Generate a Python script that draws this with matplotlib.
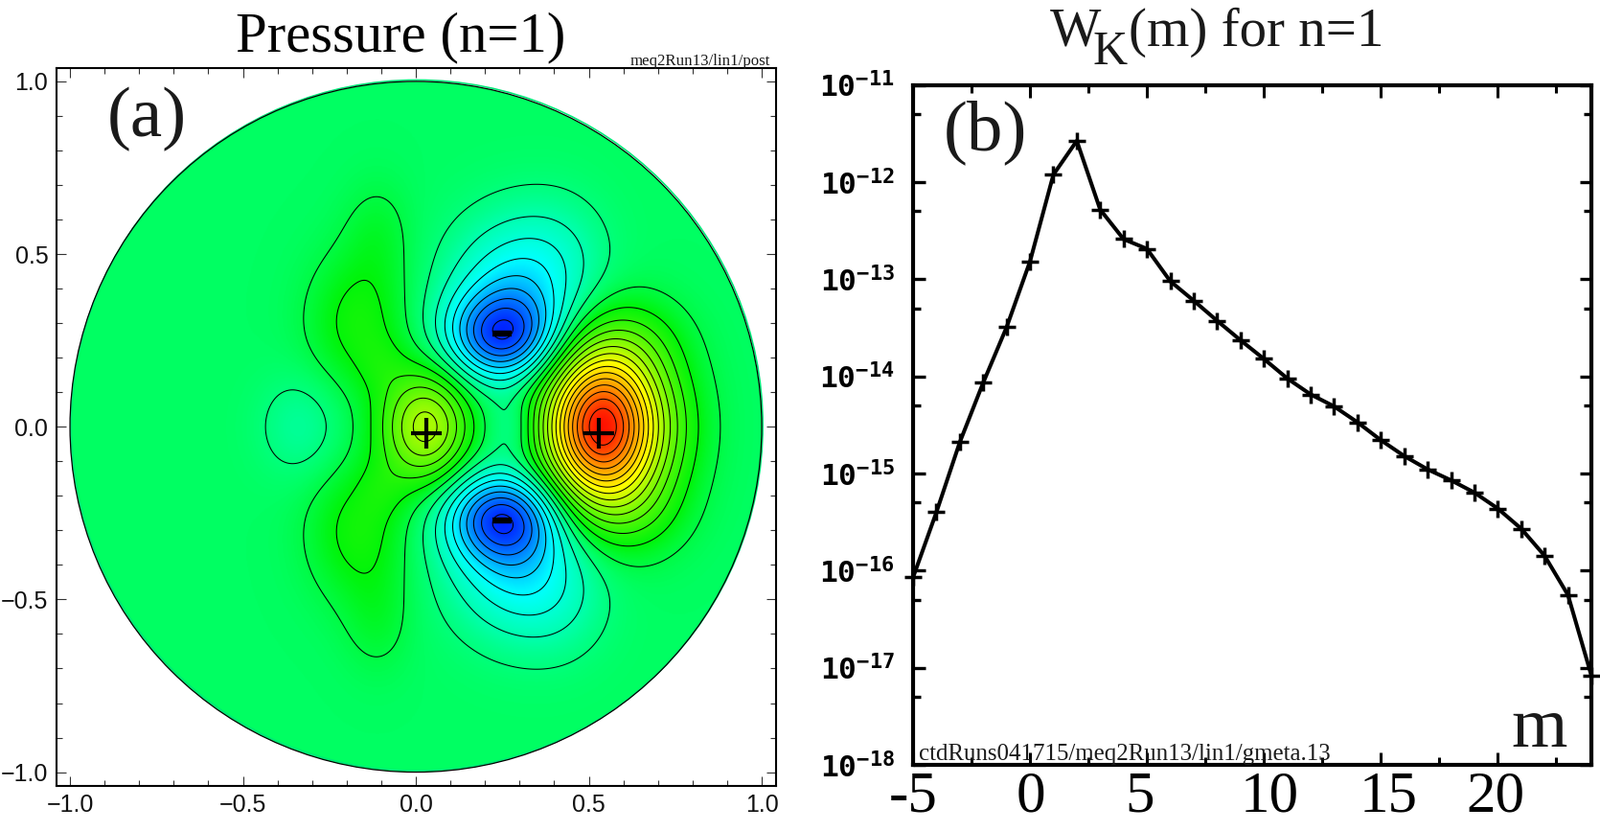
import numpy as np
import matplotlib
matplotlib.use("Agg")
import matplotlib.pyplot as plt
from matplotlib.colors import LinearSegmentedColormap
from matplotlib.patches import Circle
from matplotlib.ticker import FixedLocator, FixedFormatter
from matplotlib.transforms import ScaledTranslation

W, H = 1670, 867
plt.rcParams['mathtext.fontset'] = 'custom'
plt.rcParams['mathtext.bf'] = 'DejaVu Sans Mono:bold'
plt.rcParams['mathtext.rm'] = 'DejaVu Sans Mono:bold'

# ---- data, panel (b)
m_values = list(range(-5, 25))
wk_values = [8.5e-17, 4.0e-16, 2.1e-15, 8.6e-15, 3.2e-14, 1.52e-13, 1.19e-12, 2.65e-12, 5.2e-13,
             2.58e-13, 2.05e-13, 9.5e-14, 6.0e-14, 3.73e-14, 2.35e-14, 1.51e-14, 9.5e-15, 6.5e-15,
             4.9e-15, 3.36e-15, 2.2e-15, 1.51e-15, 1.1e-15, 8.5e-16, 6.35e-16, 4.35e-16, 2.7e-16,
             1.42e-16, 5.6e-17, 8.3e-18]
decades = [-11, -12, -13, -14, -15, -16, -17, -18]
x_major = [-5, 0, 5, 10, 15, 20]
x_labels = ['-5', '0', '5', '10', '15', '20']
x_label_nudge_px = [0, 1, -8, 6, 8, -2]
x_minor = [-2.5, 2.5, 7.5, 12.5, 17.5, 22.5]

# ---- data, panel (a): pressure structures
blob_x    = [0.525, 0.60, 0.72, 0.64, 0.245, 0.285, 0.42, 0.28, 0.03, -0.165, -0.11, -0.10, -0.33]
blob_y    = [0.0, 0.0, 0.0, 0.25, 0.262, 0.38, 0.50, 0.0, 0.0, 0.30, 0.56, 0.18, 0.0]
blob_amp  = [0.78, 0.20, 0.05, 0.06, -0.38, -0.24, -0.05, -0.07, 0.37, 0.115, 0.045, 0.032, -0.068]
blob_sx   = [0.11, 0.12, 0.10, 0.10, 0.105, 0.13, 0.10, 0.05, 0.09, 0.10, 0.07, 0.05, 0.085]
blob_sy   = [0.155, 0.17, 0.15, 0.09, 0.085, 0.15, 0.12, 0.06, 0.115, 0.14, 0.11, 0.06, 0.105]
blob_tilt = [0.0, 0.0, 0.0, 0.0, 0.0, -0.15, 0.0, 0.0, 0.0, 0.0, 0.0, 0.0, 0.0]
plus_x, plus_y = [0.03, 0.53], [-0.02, -0.02]
minus_x, minus_y = [0.25, 0.25], [0.27, -0.27]
contour_step = 0.0625

stops = [(-0.58, (0, 0.08, 1)), (-0.40, (0, 0.5, 1)), (-0.22, (0, 1, 1)), (-0.09, (0, 1, 0.68)), (0.0, (0, 1, 0.38)),
         (0.09, (0, 0.96, 0.04)), (0.5, (1, 1, 0)), (0.75, (1, 0.55, 0)), (0.96, (1, 0.07, 0))]
vmin, vmax = stops[0][0], stops[-1][0]
cmap = LinearSegmentedColormap.from_list('press', [((v - vmin) / (vmax - vmin), c) for v, c in stops], N=512)

grid = np.linspace(-1.01, 1.01, 809)
X, Y = np.meshgrid(grid, grid)
Z = np.zeros_like(X)
for x0, y0, a, sx, sy, t in zip(blob_x, blob_y, blob_amp, blob_sx, blob_sy, blob_tilt):
    for sign in ([1, -1] if y0 != 0 else [1]):
        dx = X - x0
        dy = Y - sign * y0
        u = dx * np.cos(sign * t) + dy * np.sin(sign * t)
        v = -dx * np.sin(sign * t) + dy * np.cos(sign * t)
        Z += a * np.exp(-0.5 * ((u / sx) ** 2 + (v / sy) ** 2))

fig = plt.figure(figsize=(W / 100, H / 100), dpi=100, facecolor='white')


def axes_px(l, t, r, b):
    return fig.add_axes([l / W, 1 - b / H, (r - l) / W, (b - t) / H])


def text_px(x, y, s, **kw):
    return fig.text(x / W, 1 - y / H, s, **kw)


SERIF = 'Liberation Serif'
INK = '#1a1a1a'

# ---- panel (a)
ax = axes_px(58.6, 70.5, 809.5, 820)
ax.add_patch(Circle((0.003, 0.004), 1.0, fill=False, edgecolor='#00e878', lw=1.2, zorder=0.5))
im = ax.imshow(Z, extent=[grid[0], grid[-1], grid[0], grid[-1]], origin='lower', cmap=cmap,
               vmin=vmin, vmax=vmax, interpolation='bilinear', aspect='auto')
disk = Circle((0, 0), 1.0, transform=ax.transData)
im.set_clip_path(disk)
levels = contour_step * (np.arange(-14, 18) + 0.5)
cs = ax.contour(X, Y, Z, levels=levels, colors='black', linewidths=0.75, linestyles='solid')
cs.set_clip_path(disk)
ax.add_patch(Circle((0, 0), 1.0, fill=False, edgecolor='black', lw=0.9))
ax.plot(plus_x, plus_y, linestyle='none', marker='+', color='black', ms=22.5, mew=3)
ax.plot(minus_x, minus_y, linestyle='none', marker='_', color='black', ms=14, mew=4.6)
ax.set_xlim(-1.04, 1.04)
ax.set_ylim(-1.04, 1.04)
ticks = [-1, -0.5, 0, 0.5, 1]
labels = ['\u22121.0', '\u22120.5', '0.0', '0.5', '1.0']
ax.set_xticks(ticks, labels)
ax.set_yticks(ticks, labels)
ax.set_xticks(np.arange(-10, 11) / 10, minor=True)
ax.set_yticks(np.arange(-10, 11) / 10, minor=True)
ax.tick_params(which='major', direction='in', top=True, right=True, length=7.5, width=0.8, color='#333333',
               labelsize=18, pad=6)
ax.tick_params(which='minor', direction='in', top=True, right=True, length=4, width=0.8, color='#333333')
for lab in ax.get_xticklabels() + ax.get_yticklabels():
    lab.set_family('Liberation Sans')
    lab.set_color('#111111')
for s in ax.spines.values():
    s.set_linewidth(1.5)
    s.set_zorder(5)

text_px(246, 53, 'Pressure (n=1)', family=SERIF, fontsize=42.3, color='black', ha='left', va='baseline')
text_px(112, 142, '(a)', family=SERIF, fontsize=54, color=INK, ha='left', va='baseline')
text_px(804, 68, 'meq2Run13/lin1/post', family=SERIF, fontsize=12.2, color=INK, ha='right', va='baseline')

# ---- panel (b)
bx = axes_px(953, 88.5, 1661, 798)
bx.set_yscale('log')
bx.plot(m_values, wk_values, color='black', lw=2.9, marker='+', ms=13.5, mew=2.5, clip_on=False, zorder=5)
bx.set_xlim(-5, 24)
bx.set_ylim(1e-18, 1e-11)
bx.xaxis.set_major_locator(FixedLocator(x_major))
bx.xaxis.set_major_formatter(FixedFormatter(x_labels))
bx.xaxis.set_minor_locator(FixedLocator(x_minor))
bx.yaxis.set_major_locator(FixedLocator([10.0 ** d for d in decades]))
bx.yaxis.set_major_formatter(FixedFormatter([r'$\mathbf{10^{%d}}$' % d for d in decades]))
bx.yaxis.set_minor_locator(FixedLocator([5 * 10.0 ** d for d in decades[1:]]))
bx.yaxis.set_minor_formatter(FixedFormatter([''] * 7))
bx.tick_params(axis='x', which='major', direction='in', top=True, length=9.5, width=2.2, labelsize=44, pad=4.5)
bx.tick_params(axis='x', which='minor', direction='in', top=True, length=6, width=2.2)
bx.tick_params(axis='y', which='major', direction='in', right=True, length=9, width=2.4, labelsize=22.5, pad=14)
bx.tick_params(axis='y', which='minor', direction='in', right=True, length=6, width=2.4)
fig.canvas.draw()
for lab, nudge in zip(bx.get_xticklabels(), x_label_nudge_px):
    lab.set_family(SERIF)
    lab.set_transform(lab.get_transform() + ScaledTranslation(nudge / 100, 0, fig.dpi_scale_trans))
for s in bx.spines.values():
    s.set_linewidth(3)

text_px(1096, 48, 'W', family=SERIF, fontsize=40.7, color=INK, ha='left', va='baseline')
text_px(1140, 67, 'K', family=SERIF, fontsize=36, color=INK, ha='left', va='baseline')
text_px(1178, 48, '(m) for n=1', family=SERIF, fontsize=41, color=INK, ha='left', va='baseline')
text_px(985, 156, '(b)', family=SERIF, fontsize=54, color=INK, ha='left', va='baseline')
text_px(1607, 779, 'm', family=SERIF, fontsize=54, color=INK, ha='center', va='baseline')
text_px(958.5, 793, 'ctdRuns041715/meq2Run13/lin1/gmeta.13', family=SERIF, fontsize=17.9, color=INK,
        ha='left', va='baseline')

fig.savefig('out.png', dpi=100)
